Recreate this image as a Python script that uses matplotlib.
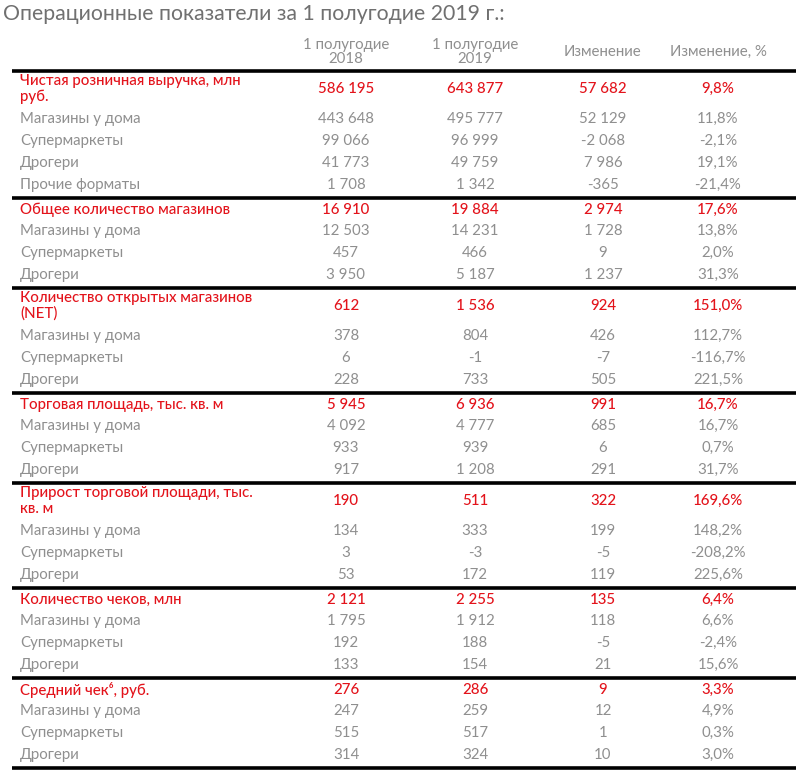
import matplotlib.pyplot as plt

# =========================
# DATA
# =========================
titulo = "Операционные показатели за 1 полугодие 2019 г.:"
encabezados = ["1 полугодие\n2018", "1 полугодие\n2019", "Изменение", "Изменение, %"]

grupos = [
    "Чистая розничная выручка, млн\nруб.",
    "Общее количество магазинов",
    "Количество открытых магазинов\n(NET)",
    "Торговая площадь, тыс. кв. м",
    "Прирост торговой площади, тыс.\nкв. м",
    "Количество чеков, млн",
    "Средний чек⁶, руб.",
]
totales = [
    ["586 195", "643 877", "57 682", "9,8%"],
    ["16 910", "19 884", "2 974", "17,6%"],
    ["612", "1 536", "924", "151,0%"],
    ["5 945", "6 936", "991", "16,7%"],
    ["190", "511", "322", "169,6%"],
    ["2 121", "2 255", "135", "6,4%"],
    ["276", "286", "9", "3,3%"],
]
subfilas = [
    [("Магазины у дома", "443 648", "495 777", "52 129", "11,8%"),
     ("Супермаркеты", "99 066", "96 999", "-2 068", "-2,1%"),
     ("Дрогери", "41 773", "49 759", "7 986", "19,1%"),
     ("Прочие форматы", "1 708", "1 342", "-365", "-21,4%")],
    [("Магазины у дома", "12 503", "14 231", "1 728", "13,8%"),
     ("Супермаркеты", "457", "466", "9", "2,0%"),
     ("Дрогери", "3 950", "5 187", "1 237", "31,3%")],
    [("Магазины у дома", "378", "804", "426", "112,7%"),
     ("Супермаркеты", "6", "-1", "-7", "-116,7%"),
     ("Дрогери", "228", "733", "505", "221,5%")],
    [("Магазины у дома", "4 092", "4 777", "685", "16,7%"),
     ("Супермаркеты", "933", "939", "6", "0,7%"),
     ("Дрогери", "917", "1 208", "291", "31,7%")],
    [("Магазины у дома", "134", "333", "199", "148,2%"),
     ("Супермаркеты", "3", "-3", "-5", "-208,2%"),
     ("Дрогери", "53", "172", "119", "225,6%")],
    [("Магазины у дома", "1 795", "1 912", "118", "6,6%"),
     ("Супермаркеты", "192", "188", "-5", "-2,4%"),
     ("Дрогери", "133", "154", "21", "15,6%")],
    [("Магазины у дома", "247", "259", "12", "4,9%"),
     ("Супермаркеты", "515", "517", "1", "0,3%"),
     ("Дрогери", "314", "324", "10", "3,0%")],
]

# =========================
# ESTILO
# =========================
ROJO = "#e3131b"
GRIS = "#8f8f8f"
FUENTE = ["Lato", "DejaVu Sans"]
col_x = [346, 475, 603, 718]
x_etiqueta = 20
fs = 10.8
paso = 22

fig = plt.figure(figsize=(8.04, 7.74), dpi=100)
ax = fig.add_axes([0, 0, 1, 1])
ax.set_xlim(0, 804)
ax.set_ylim(774, 0)
ax.axis("off")

ax.text(3, 14, titulo, fontsize=15.3, color="#707070", va="center",
        family=FUENTE)

for x, h in zip(col_x, encabezados):
    ax.text(x, 52, h, fontsize=fs, color=GRIS, ha="center", va="center",
            family=FUENTE, linespacing=1.05)


def linea(y):
    ax.plot([12, 796], [y, y], color="black", lw=2.6, solid_capstyle="butt")


y = 71
for g, tot, subs in zip(grupos, totales, subfilas):
    linea(y)
    dos_lineas = "\n" in g
    yc = y + (18 if dos_lineas else 12)
    ax.text(x_etiqueta, yc, g, fontsize=fs, color=ROJO, va="center",
            family=FUENTE, fontweight="medium", linespacing=1.12)
    for x, v in zip(col_x, tot):
        ax.text(x, yc, v, fontsize=fs, color=ROJO, ha="center", va="center",
                family=FUENTE, fontweight="medium")
    yy = yc + (30 if dos_lineas else 21)
    for fila in subs:
        ax.text(x_etiqueta, yy, fila[0], fontsize=fs, color=GRIS, va="center",
                family=FUENTE)
        for x, v in zip(col_x, fila[1:]):
            ax.text(x, yy, v, fontsize=fs, color=GRIS, ha="center", va="center",
                    family=FUENTE)
        yy += paso
    y = yy - paso + 13

linea(y)

fig.savefig("out.png", dpi=100)
